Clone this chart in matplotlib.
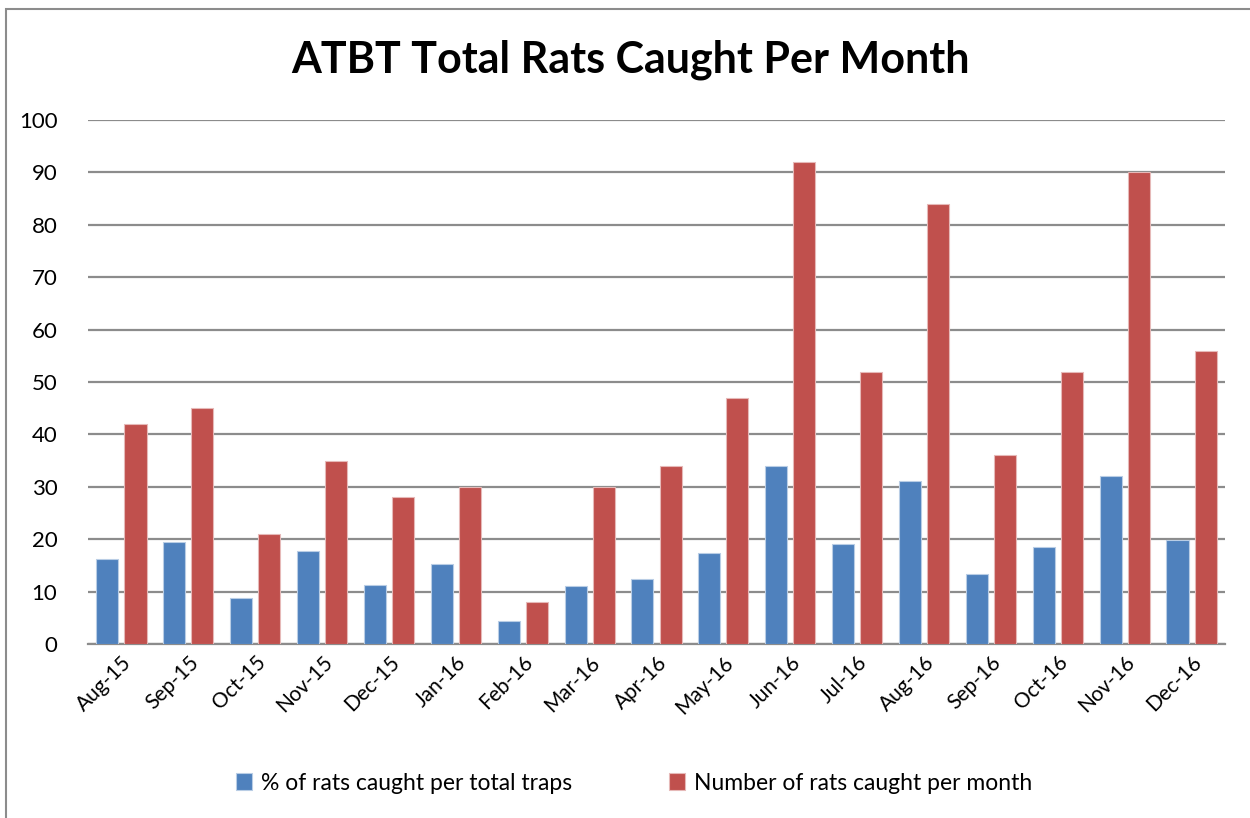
import matplotlib
matplotlib.use("Agg")
import matplotlib.pyplot as plt
import numpy as np
from matplotlib.patches import Rectangle

months = ["Aug-15", "Sep-15", "Oct-15", "Nov-15", "Dec-15", "Jan-16", "Feb-16", "Mar-16",
          "Apr-16", "May-16", "Jun-16", "Jul-16", "Aug-16", "Sep-16", "Oct-16", "Nov-16", "Dec-16"]
pct_caught = [16.2, 19.4, 8.8, 17.7, 11.2, 15.2, 4.3, 11.1, 12.5, 17.3, 34.0, 19.1, 31.1, 13.3, 18.5, 32.0, 19.9]
num_caught = [42, 45, 21, 35, 28, 30, 8, 30, 34, 47, 92, 52, 84, 36, 52, 90, 56]
series_names = ["% of rats caught per total traps", "Number of rats caught per month"]
yticks = [0, 10, 20, 30, 40, 50, 60, 70, 80, 90, 100]

plt.rcParams['font.family'] = ['Lato', 'DejaVu Sans']

fig = plt.figure(figsize=(12.5, 8.18), dpi=100)
ax = fig.add_axes([88/1250, 1 - 644/818, (1225-88)/1250, (644-120)/818])

x = np.arange(len(months))
w = 0.33
off = 0.21
ax.bar(x - off, pct_caught, w, color="#4F81BD", edgecolor="#B9CDE5", linewidth=0.8, zorder=3,
       label=series_names[0])
ax.bar(x + off, num_caught, w, color="#C0504D", edgecolor="#E6B9B8", linewidth=0.8, zorder=3,
       label=series_names[1])

ax.set_xlim(-0.5, len(months) - 0.5)
ax.set_ylim(0, 100)
ax.set_yticks(yticks)
ax.set_yticklabels([str(v) for v in yticks], fontsize=16)
ax.yaxis.grid(True, color="#8C8C8C", linewidth=1.6, zorder=0)
ax.set_axisbelow(True)
for s in ["left", "right", "top"]:
    ax.spines[s].set_visible(False)
ax.spines["bottom"].set_color("#8C8C8C")
ax.spines["bottom"].set_linewidth(1.6)
ax.tick_params(axis="y", length=0, pad=22)
ax.tick_params(axis="x", length=0, pad=6)
ax.set_xticks(x)
ax.set_xticklabels(months, rotation=45, ha="right", rotation_mode="anchor", fontsize=15)

fig.text(630/1250, 1 - 60/818, "ATBT Total Rats Caught Per Month", ha="center", va="center",
         fontsize=31, fontweight="bold")

leg = fig.legend(loc="center", bbox_to_anchor=(634/1250, 1 - 783/818), ncol=2, frameon=False,
                 fontsize=16.5, handlelength=0.7, handleheight=0.7, handletextpad=0.4,
                 columnspacing=4.2)

# outer chart border (left/top visible)
fig.patches.append(Rectangle((6/1250, -0.01), 1.1, 1 - 9/818 + 0.01, transform=fig.transFigure,
                             fill=False, edgecolor="#8C8C8C", linewidth=1.5))

fig.savefig("out.png", dpi=100)
